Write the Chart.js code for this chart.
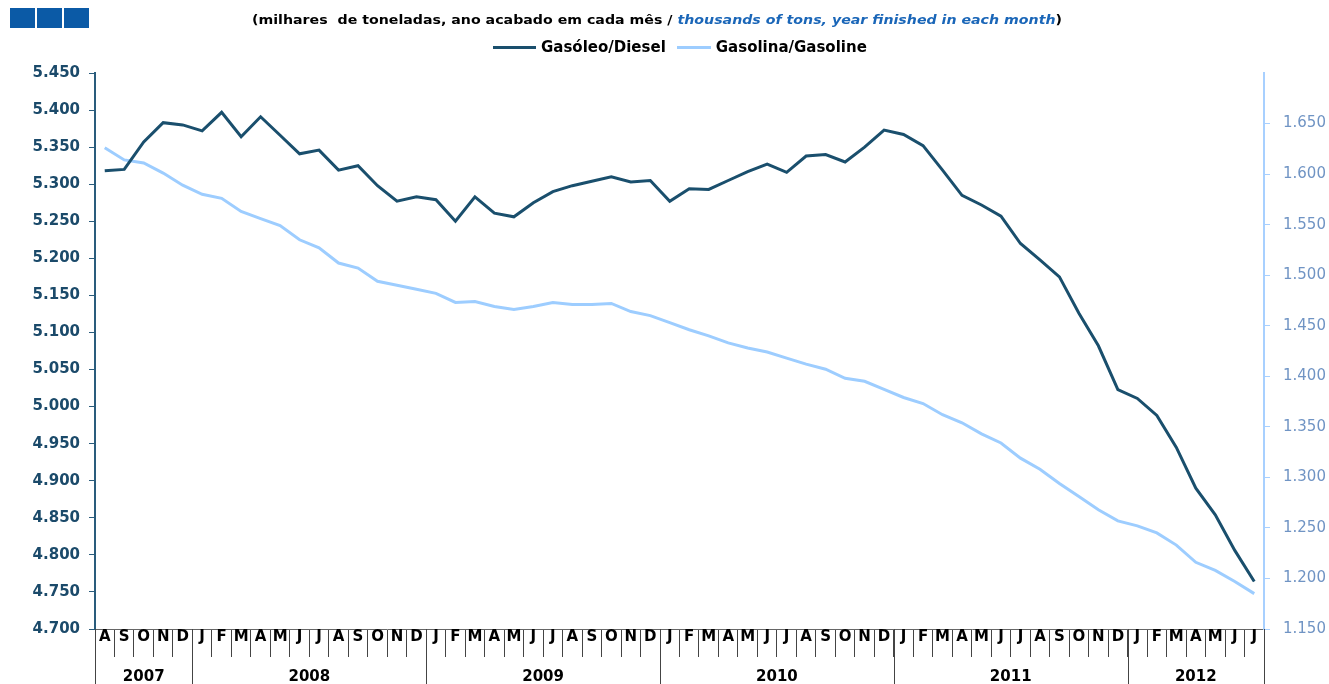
<!DOCTYPE html>
<html>
<head>
<meta charset="utf-8">
<script src="https://cdn.jsdelivr.net/npm/chart.js@4/dist/chart.umd.min.js"></script>
<style>
  html, body { margin: 0; padding: 0; background: #fff; }
  #wrap { position: relative; width: 1329px; height: 684px; overflow: hidden; }
  #chart { position: absolute; left: 0; top: 0; }
  .logo { position: absolute; top: 8px; width: 25px; height: 20px; background: #0b5aa6; }
  #title { position: absolute; top: 12px; left: 252px; white-space: pre; font: bold 13px "DejaVu Sans"; color: #000; transform-origin: 0 0; }
  #title i { color: #1a66b8; }
  #legend { position: absolute; top: 38px; left: 493px; white-space: nowrap; font: bold 15px "DejaVu Sans"; color: #000; }
  .leg-item { display: inline-block; margin-right: 11px; }
  .leg-line { display: inline-block; width: 43px; height: 3px; vertical-align: middle; margin-right: 5px; }
</style>
</head>
<body>
<div id="wrap">
  <canvas id="chart" width="1329" height="684"></canvas>
  <div class="logo" style="left:10px"></div>
  <div class="logo" style="left:37px"></div>
  <div class="logo" style="left:64px"></div>
  <div id="title">(milhares  de toneladas, ano acabado em cada mês / <i>thousands of tons, year finished in each month</i>)</div>
  <div id="legend"></div>
</div>
<script>
// Month initials, Aug 2007 - Jul 2012
var months = ['A','S','O','N','D',
  'J','F','M','A','M','J','J','A','S','O','N','D',
  'J','F','M','A','M','J','J','A','S','O','N','D',
  'J','F','M','A','M','J','J','A','S','O','N','D',
  'J','F','M','A','M','J','J','A','S','O','N','D',
  'J','F','M','A','M','J','J'];
var years = ['2007','2008','2009','2010','2011','2012'];
var monthsPerYear = [5, 12, 12, 12, 12, 7];

// thousands of tons, 12-month rolling totals
var diesel = [5.318, 5.320, 5.357, 5.383, 5.380,
  5.372, 5.397, 5.364, 5.391, 5.366, 5.341, 5.346, 5.319, 5.325, 5.298, 5.277, 5.283,
  5.279, 5.250, 5.283, 5.261, 5.256, 5.275, 5.290, 5.298, 5.304, 5.310, 5.303, 5.305,
  5.277, 5.294, 5.293, 5.305, 5.317, 5.327, 5.316, 5.338, 5.340, 5.330, 5.350, 5.373,
  5.367, 5.352, 5.319, 5.285, 5.272, 5.257, 5.220, 5.198, 5.175, 5.126, 5.082, 5.023,
  5.011, 4.988, 4.945, 4.890, 4.854, 4.806, 4.764];
var gasoline = [1.626, 1.614, 1.611, 1.601, 1.589,
  1.580, 1.576, 1.563, 1.556, 1.549, 1.535, 1.527, 1.512, 1.507, 1.494, 1.490, 1.486,
  1.482, 1.473, 1.474, 1.469, 1.466, 1.469, 1.473, 1.471, 1.471, 1.472, 1.464, 1.460,
  1.453, 1.446, 1.440, 1.433, 1.428, 1.424, 1.418, 1.412, 1.407, 1.398, 1.395, 1.387,
  1.379, 1.373, 1.362, 1.354, 1.343, 1.334, 1.319, 1.308, 1.294, 1.281, 1.268, 1.257,
  1.252, 1.245, 1.233, 1.216, 1.208, 1.197, 1.185];

var leftTicks = { min: 4.7, max: 5.45, step: 0.05 };
var rightTicks = { min: 1.15, max: 1.7, step: 0.05 };

var FONT = '"DejaVu Sans"';

// Year row under the month letters
var yearRow = {
  id: 'yearRow',
  afterDraw: function(chart) {
    var xs = chart.scales.x;
    var ctx = chart.ctx;
    var half = (xs.getPixelForValue(1) - xs.getPixelForValue(0)) / 2;
    var top = xs.top;
    var bottom = chart.height;
    var idx = 0;
    ctx.save();
    ctx.strokeStyle = '#444';
    ctx.lineWidth = 1;
    ctx.fillStyle = '#000';
    ctx.font = 'bold 15px ' + FONT;
    ctx.textAlign = 'center';
    ctx.textBaseline = 'middle';
    years.forEach(function(yr, i) {
      var n = monthsPerYear[i];
      var left = xs.getPixelForValue(idx) - half;
      var right = xs.getPixelForValue(idx + n - 1) + half;
      var lx = Math.round(left) + 0.5;
      ctx.beginPath();
      ctx.moveTo(lx, top);
      ctx.lineTo(lx, bottom);
      ctx.stroke();
      ctx.fillText(yr, (left + right) / 2, 677);
      if (i === years.length - 1) {
        var rx = Math.round(right) + 0.5;
        ctx.beginPath();
        ctx.moveTo(rx, top);
        ctx.lineTo(rx, bottom);
        ctx.stroke();
      }
      idx += n;
    });
    ctx.restore();
  }
};

var chart = new Chart(document.getElementById('chart'), {
  type: 'line',
  data: {
    labels: months,
    datasets: [
      { label: 'Gasóleo/Diesel', data: diesel, yAxisID: 'y', borderColor: '#1a4f6d', borderWidth: 3, pointRadius: 0, tension: 0 },
      { label: 'Gasolina/Gasoline', data: gasoline, yAxisID: 'y1', borderColor: '#9dcdff', borderWidth: 3, pointRadius: 0, tension: 0 }
    ]
  },
  options: {
    responsive: false,
    animation: false,
    layout: { padding: { top: 73, left: 0, right: 0, bottom: 0 } },
    plugins: { legend: { display: false }, tooltip: { enabled: false } },
    scales: {
      x: {
        type: 'category',
        offset: true,
        grid: { offset: true, drawOnChartArea: false, tickLength: 28, color: '#444', lineWidth: 1 },
        border: { color: '#666', width: 1 },
        ticks: { autoSkip: false, maxRotation: 0, padding: -29, color: '#000', font: { family: FONT, size: 15, weight: 'bold' } },
        afterFit: function(scale) { scale.width; scale.height = 55; }
      },
      y: {
        position: 'left',
        min: leftTicks.min,
        max: leftTicks.max,
        grid: { drawOnChartArea: false, tickLength: 6, color: '#2a5c7c' },
        border: { color: '#2a5c7c', width: 2 },
        ticks: {
          stepSize: leftTicks.step,
          padding: 9,
          color: '#1b4a6a',
          font: { family: FONT, size: 15, weight: 'bold' },
          callback: function(v) { return v.toFixed(3); }
        },
        afterFit: function(scale) { scale.width = 95; }
      },
      y1: {
        position: 'right',
        min: rightTicks.min,
        max: rightTicks.max,
        grid: { drawOnChartArea: false, tickLength: 6, color: '#a8d0ff' },
        border: { color: '#a8d0ff', width: 2 },
        ticks: {
          stepSize: rightTicks.step,
          padding: 13,
          color: '#7094c4',
          font: { family: FONT, size: 15 },
          callback: function(v) {
            if (v > rightTicks.max - 0.001) return null;
            return v.toFixed(3);
          }
        },
        afterFit: function(scale) { scale.width = 65; }
      }
    }
  },
  plugins: [yearRow]
});

// Legend built from the datasets
var legendDiv = document.getElementById('legend');
chart.data.datasets.forEach(function(ds, i) {
  var item = document.createElement('span');
  item.className = 'leg-item';
  item.innerHTML = '<span class="leg-line" style="background:' + ds.borderColor + (i === 1 ? ';width:34px' : '') + '"></span>' + ds.label;
  legendDiv.appendChild(item);
});

// Stretch the title to the reference width
var title = document.getElementById('title');
var w = title.getBoundingClientRect().width;
title.style.transform = 'scaleX(' + (810 / w) + ')';
</script>
</body>
</html>
